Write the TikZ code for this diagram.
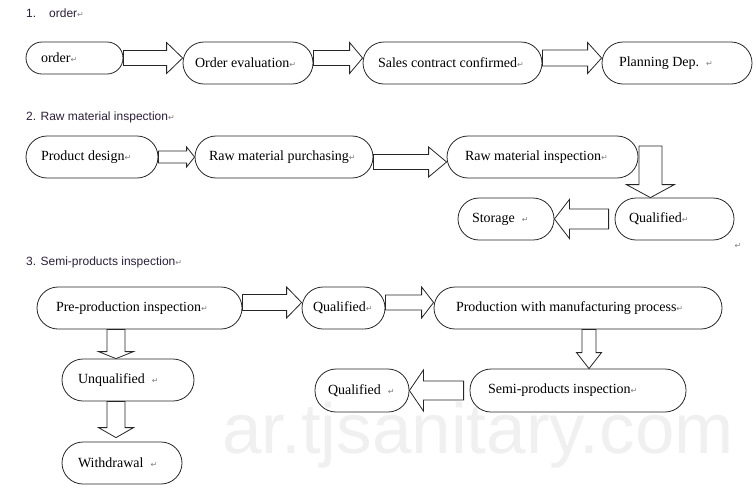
\documentclass[tikz,border=0pt]{standalone}
\usepackage{fontspec}
\setmainfont{Liberation Serif}
\newfontfamily\headfont{Liberation Sans}
\newfontfamily\markfont{DejaVu Sans}
\usetikzlibrary{calc}

\definecolor{headtext}{HTML}{2B1F3A}
\definecolor{wmark}{HTML}{F0F0F0}

\newcommand\pmark{{\markfont\fontsize{8}{8}\selectfont\color{gray}↵}}

% start, tip, shaft half width, head half width, head length
\newcommand\blockarrow[5]{%
  \coordinate (ba) at ($(#2)!#5!(#1)$);
  \draw[blockarr] ($(#1)!#3!90:(#2)$) -- ($(ba)!#3!90:(#2)$) -- ($(ba)!#4!90:(#2)$) -- (#2)
    -- ($(ba)!#4!-90:(#2)$) -- ($(ba)!#3!-90:(#2)$) -- ($(#1)!#3!-90:(#2)$) -- cycle;}

\begin{document}
\begin{tikzpicture}[x=1pt,y=-1pt,
    pill/.style={draw=black!85, line width=0.8pt, font=\fontsize{14}{16}\selectfont,
      inner xsep=0pt, inner ysep=0pt, rounded corners=#1,
      execute at begin node={\hbox to \pilltw\bgroup},
      execute at end node={\hfil\egroup}},
    pill/.default=21pt,
    tw/.code={\def\pilltw{#1}},
    head/.style={anchor=west, font=\headfont\fontsize{12}{14}\selectfont, text=headtext, inner sep=0pt},
    blockarr/.style={draw=black!85, fill=white, line width=0.8pt, line join=miter}]
  \useasboundingbox (0,0) rectangle (754,491);

  \node[anchor=base west, font=\headfont\fontsize{71}{71}\selectfont, text=wmark, inner sep=0pt]
    (wm) at (222,453) {ar.tjsanitary.com};

  % 1. order
  \node[head] (h1) at (26,13) {1.\hspace{13pt}order\pmark};
  \node[pill=16pt, minimum width=97pt, minimum height=32pt, tw=67pt] (order) at (74.5,58) {order\pmark};
  \node[pill, minimum width=130pt, minimum height=42pt, tw=106pt] (oeval) at (248,63) {Order evaluation\pmark};
  \node[pill, minimum width=179pt, minimum height=42pt, tw=149pt] (sales) at (452.5,63) {Sales contract confirmed\pmark};
  \node[pill, minimum width=150pt, minimum height=42pt, tw=116pt] (plan) at (677,63) {Planning Dep.\ \ \pmark};

  \coordinate (a1t) at (order.east -| oeval.west);
  \blockarrow{order.east}{a1t}{7.5pt}{15.5pt}{16pt}
  \coordinate (a2s) at ([yshift=5pt]oeval.east);
  \coordinate (a2t) at (a2s -| sales.west);
  \blockarrow{a2s}{a2t}{7.5pt}{15.5pt}{13pt}
  \coordinate (a3s) at ([yshift=5pt]sales.east);
  \coordinate (a3t) at (a3s -| plan.west);
  \blockarrow{a3s}{a3t}{8pt}{15.5pt}{14pt}

  % 2. raw material
  \node[head] (h2) at (26,117) {2. Raw material inspection\pmark};
  \node[pill, minimum width=132pt, minimum height=42pt, tw=102pt] (design) at (92,157) {Product design\pmark};
  \node[pill, minimum width=178pt, minimum height=42pt, tw=150pt] (purch) at (284,157) {Raw material purchasing\pmark};
  \node[pill, minimum width=191pt, minimum height=42pt, tw=155pt] (rawin) at (542.5,157) {Raw material inspection\pmark};
  \node[pill, minimum width=119pt, minimum height=42pt, tw=91pt] (qual1) at (674.5,219) {Qualified\pmark};
  \node[pill, minimum width=96pt, minimum height=42pt, tw=68pt] (store) at (506,219) {Storage\ \ \pmark};
  \node[inner sep=0pt] (pm) at (738,246) {\pmark};

  \coordinate (a4t) at (design.east -| purch.west);
  \blockarrow{design.east}{a4t}{6pt}{10pt}{8pt}
  \coordinate (a5s) at ([yshift=-5pt]purch.east);
  \coordinate (a5t) at (a5s -| rawin.west);
  \blockarrow{a5s}{a5t}{7.5pt}{15pt}{18pt}
  \coordinate (a6s) at ([shift={(12pt,11pt)}]rawin.east);
  \coordinate (a6t) at (a6s |- qual1.north);
  \blockarrow{a6s}{a6t}{11.5pt}{24pt}{13pt}
  \coordinate (a7s) at ([xshift=-6pt]qual1.west);
  \blockarrow{a7s}{store.east}{10pt}{19.5pt}{15pt}

  % 3. semi-products
  \node[head] (h3) at (26,262) {3. Semi-products inspection\pmark};
  \node[pill, minimum width=205pt, minimum height=42pt, tw=167pt] (pre) at (139.5,308) {Pre-production inspection\pmark};
  \node[pill, minimum width=83pt, minimum height=42pt, tw=61pt] (qual2) at (343.5,308) {Qualified\pmark};
  \node[pill, minimum width=288pt, minimum height=42pt, tw=244pt] (prod) at (578,308) {Production with manufacturing process\pmark};
  \node[pill, minimum width=216pt, minimum height=43pt, tw=180pt] (semi) at (578,390.5) {Semi-products inspection\pmark};
  \node[pill, minimum width=94pt, minimum height=43pt, tw=68pt] (qual3) at (362,390.5) {Qualified\ \ \pmark};
  \node[pill, minimum width=132pt, minimum height=42pt, tw=100pt] (unq) at (128,380) {Unqualified\ \ \pmark};
  \node[pill, minimum width=120pt, minimum height=42pt, tw=88pt] (wd) at (122,463) {Withdrawal\ \ \pmark};

  \coordinate (a8s) at ([yshift=5.5pt]pre.east);
  \coordinate (a8t) at (a8s -| qual2.west);
  \blockarrow{a8s}{a8t}{8pt}{15.5pt}{15pt}
  \coordinate (a9s) at (a8s -| qual2.east);
  \coordinate (a9t) at (a8s -| prod.west);
  \blockarrow{a9s}{a9t}{7.5pt}{15.5pt}{12pt}
  \coordinate (a10s) at ([xshift=11pt]prod.south);
  \coordinate (a10t) at (a10s |- semi.north);
  \blockarrow{a10s}{a10t}{7pt}{12.5pt}{16pt}
  \coordinate (a11s) at ([xshift=-6pt]semi.west);
  \blockarrow{a11s}{qual3.east}{9.5pt}{20.5pt}{14pt}
  \coordinate (a12s) at ([xshift=-23.5pt]pre.south);
  \coordinate (a12t) at (a12s |- unq.north);
  \blockarrow{a12s}{a12t}{9pt}{17.5pt}{7pt}
  \coordinate (a13s) at (a12s |- unq.south);
  \coordinate (a13t) at ([yshift=4pt]a13s |- wd.north);
  \blockarrow{a13s}{a13t}{9pt}{17.5pt}{10pt}
\end{tikzpicture}
\end{document}
